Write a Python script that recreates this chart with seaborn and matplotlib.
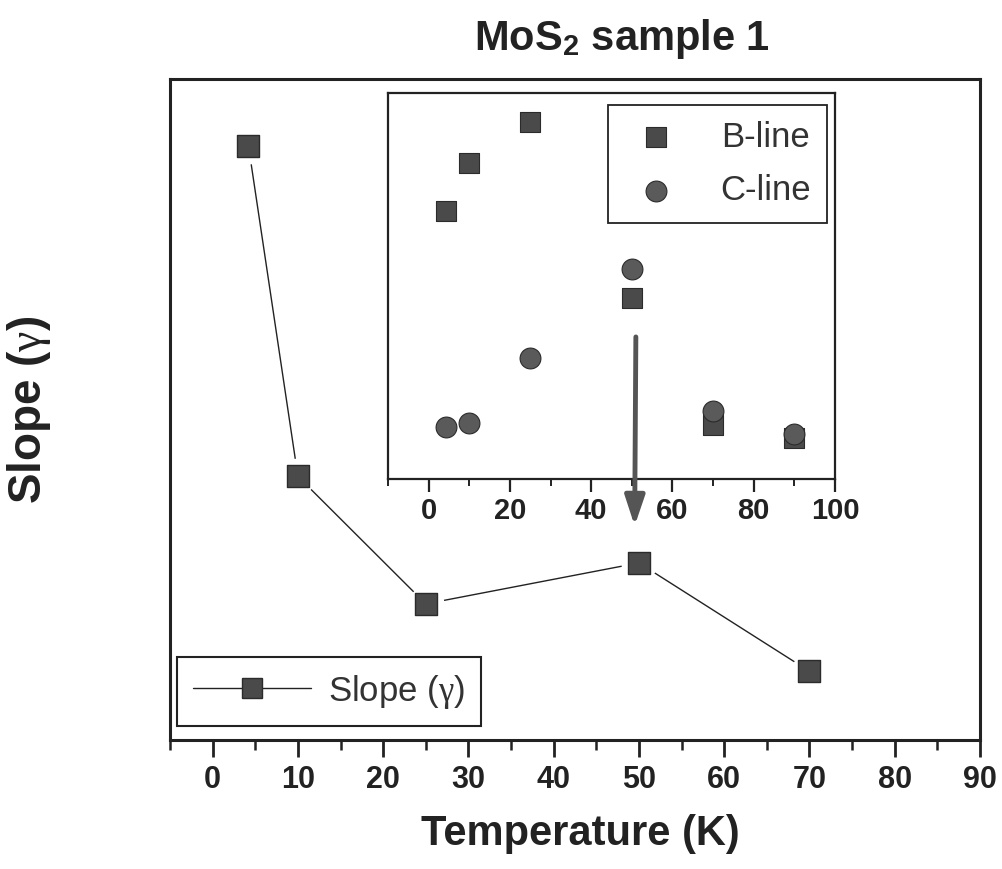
import matplotlib
matplotlib.use("Agg")
import matplotlib.pyplot as plt
import seaborn as sns
import pandas as pd
from matplotlib.ticker import MultipleLocator, NullLocator
from matplotlib.lines import Line2D

# ---- data ----
temps_main = [4.2, 10, 25, 50, 70]
slope_main = [0.899, 0.399, 0.206, 0.268, 0.104]
temps_inset = [4.2, 10, 25, 50, 70, 90]
b_line = [0.693, 0.819, 0.925, 0.470, 0.140, 0.106]
c_line = [0.134, 0.145, 0.313, 0.545, 0.176, 0.116]
main_xticks = [0, 10, 20, 30, 40, 50, 60, 70, 80, 90]
inset_xticks = [0, 20, 40, 60, 80, 100]
title_text = r"MoS$_\mathbf{2}$ sample 1"
xlabel_text = "Temperature (K)"
ylabel_text = r"Slope ($\gamma$)"
main_label = r"Slope ($\gamma$)"
inset_labels = ["B-line", "C-line"]

sns.set_theme(style="white")
plt.rcParams["font.family"] = ["Liberation Sans", "DejaVu Sans"]
plt.rcParams["mathtext.fontset"] = "custom"
plt.rcParams["mathtext.rm"] = "Liberation Sans:bold"
plt.rcParams["mathtext.bf"] = "Liberation Sans:bold"
plt.rcParams["mathtext.it"] = "Liberation Serif"

TXT = "#222222"
MARK = "#4a4a4a"
EDGE = "#2b2b2b"

fig = plt.figure(figsize=(10.03, 8.69), dpi=100)
ax = fig.add_axes([0.1695, 0.1484, 0.8075, 0.7606])

df_main = pd.DataFrame({"T": temps_main, "S": slope_main})
sns.lineplot(data=df_main, x="T", y="S", ax=ax, color=TXT, linewidth=1.0,
             zorder=2, legend=False)
# white halos leave small gaps between the line and the markers
ax.plot(df_main["T"], df_main["S"], linestyle="none", marker="o", markersize=25,
        markerfacecolor="white", markeredgecolor="white", zorder=3)
sns.scatterplot(data=df_main, x="T", y="S", ax=ax, marker="s", s=16.5**2,
                color=MARK, edgecolor=EDGE, linewidth=1.0, zorder=4, legend=False)
h = Line2D([], [], color=TXT, lw=1.0, marker="s", markersize=15,
           markerfacecolor=MARK, markeredgecolor=EDGE)
leg = ax.legend([h], [main_label], loc="lower left", bbox_to_anchor=(0.009, 0.021),
                fontsize=25, frameon=True, fancybox=False, framealpha=1,
                handlelength=3.4, handletextpad=0.5, borderpad=0.45,
                borderaxespad=0)
leg.get_frame().set_edgecolor(TXT)
leg.get_frame().set_linewidth(1.5)
for t in leg.get_texts():
    t.set_color("#333333")

ax.set_xlim(-5, 90)
ax.set_ylim(0, 1)
ax.xaxis.set_major_locator(plt.FixedLocator(main_xticks))
ax.xaxis.set_minor_locator(MultipleLocator(5))
ax.yaxis.set_major_locator(NullLocator())
ax.tick_params(axis="x", which="major", direction="out", length=12, width=2,
               color=TXT, bottom=True, pad=6)
ax.tick_params(axis="x", which="minor", direction="out", length=7, width=1.8,
               color=TXT, bottom=True)
for lab in ax.get_xticklabels():
    lab.set_fontweight("bold")
    lab.set_fontsize(22)
    lab.set_color(TXT)
for s in ax.spines.values():
    s.set_visible(True)
    s.set_color(TXT)
    s.set_linewidth(2.2)

ax.set_xlabel(xlabel_text, fontsize=30, fontweight="bold", color=TXT)
ax.xaxis.set_label_coords(0.507, -0.112)
ax.set_ylabel(ylabel_text, fontsize=33, fontweight="bold", color=TXT)
ax.yaxis.set_label_coords(-0.145, 0.5)

fig.text(0.62, 0.955, title_text, fontsize=30, fontweight="bold", ha="center",
         va="center", color=TXT)

# ---- inset ----
axin = fig.add_axes([0.3868, 0.4488, 0.4457, 0.4442])
df_in = pd.DataFrame({"T": temps_inset + temps_inset,
                      "V": b_line + c_line,
                      "line": [inset_labels[0]] * len(b_line) + [inset_labels[1]] * len(c_line)})
sns.scatterplot(data=df_in[df_in["line"] == inset_labels[0]], x="T", y="V", ax=axin,
                marker="s", s=14**2, color=MARK, edgecolor=EDGE, linewidth=0.8,
                label=inset_labels[0], zorder=3)
sns.scatterplot(data=df_in[df_in["line"] == inset_labels[1]], x="T", y="V", ax=axin,
                marker="o", s=15**2, color="#5a5a5a", edgecolor=EDGE, linewidth=0.8,
                label=inset_labels[1], zorder=4)
axin.set_xlim(-10, 100)
axin.set_ylim(0, 1)
axin.xaxis.set_major_locator(plt.FixedLocator(inset_xticks))
axin.xaxis.set_minor_locator(MultipleLocator(10))
axin.yaxis.set_major_locator(NullLocator())
axin.tick_params(axis="x", which="major", direction="out", length=9, width=1.6,
                 color=TXT, bottom=True, pad=4)
axin.tick_params(axis="x", which="minor", direction="out", length=5, width=1.4,
                 color=TXT, bottom=True)
for lab in axin.get_xticklabels():
    lab.set_fontweight("bold")
    lab.set_fontsize(21)
    lab.set_color(TXT)
for s in axin.spines.values():
    s.set_visible(True)
    s.set_color(TXT)
    s.set_linewidth(1.6)
axin.set_xlabel("")
axin.set_ylabel("")
leg2 = axin.legend(loc="upper right", bbox_to_anchor=(0.982, 0.969), fontsize=25,
                   frameon=True, fancybox=False, framealpha=1, handlelength=1.9,
                   handletextpad=0.9, labelspacing=0.6, borderpad=0.45,
                   borderaxespad=0, markerscale=1.0)
leg2.get_frame().set_edgecolor(TXT)
leg2.get_frame().set_linewidth(1.3)
for t in leg2.get_texts():
    t.set_color("#333333")

# arrow from the inset down to the 50 K point of the main plot
axin.annotate("", xy=(49.5, 0.324), xycoords=ax.transData,
              xytext=(51, 0.368), textcoords="data",
              arrowprops=dict(arrowstyle="-|>,head_length=0.9,head_width=0.3",
                              mutation_scale=20, lw=3.5, color="#555555",
                              shrinkA=0, shrinkB=0),
              annotation_clip=False)

fig.savefig("out.png", dpi=100)
